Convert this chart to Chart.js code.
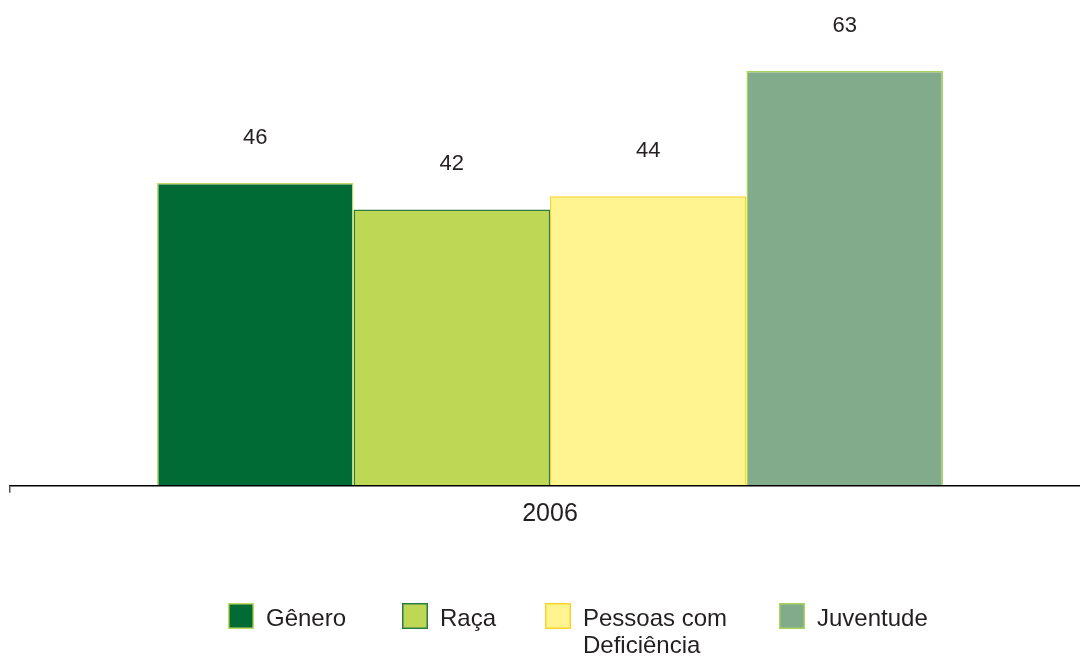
<!DOCTYPE html>
<html>
<head>
<meta charset="utf-8">
<script src="https://cdn.jsdelivr.net/npm/chart.js@4.4.1/dist/chart.umd.min.js"></script>
<style>
  html, body { margin: 0; padding: 0; background: #ffffff; }
  #wrap { position: relative; width: 1080px; height: 657px; }
</style>
</head>
<body>
<div id="wrap"><canvas id="c" width="1080" height="657"></canvas></div>
<script>
// Categories and series
const years = ['2006'];
const seriesNames = ['Gênero', 'Raça', ['Pessoas com', 'Deficiência'], 'Juventude'];
const generoValues = [46];
const racaValues = [42];
const deficienciaValues = [44];
const juventudeValues = [63];

// Styling
const fills = ['#006b35', '#bed855', '#fef591', '#82ab8b'];
const borders = ['#c2da62', '#2a7c3f', '#ffd32a', '#a8d45a'];
const textColor = '#231f20';
const FONT = '"Liberation Sans", Arial, sans-serif';

const seriesValues = [generoValues, racaValues, deficienciaValues, juventudeValues];

const datasets = seriesValues.map((vals, i) => ({
  label: Array.isArray(seriesNames[i]) ? seriesNames[i].join(' ') : seriesNames[i],
  data: vals,
  backgroundColor: fills[i],
  borderColor: borders[i],
  borderWidth: 1.5,
  borderSkipped: 'bottom'
}));

// Value labels above each bar
const valueLabels = {
  id: 'valueLabels',
  afterDatasetsDraw(chart) {
    const ctx = chart.ctx;
    ctx.save();
    ctx.font = '22px ' + FONT;
    ctx.fillStyle = textColor;
    ctx.textAlign = 'center';
    ctx.textBaseline = 'alphabetic';
    chart.data.datasets.forEach((ds, i) => {
      const meta = chart.getDatasetMeta(i);
      meta.data.forEach((bar, j) => {
        ctx.fillText(String(ds.data[j]), bar.x, bar.y - 39);
      });
    });
    ctx.restore();
  }
};

// Baseline drawn across the full width, with a small downward tick at its left end
const baseline = {
  id: 'baseline',
  afterDraw(chart) {
    const ctx = chart.ctx;
    const y = Math.round(chart.scales.y.getPixelForValue(0)) - 0.25;
    ctx.save();
    ctx.strokeStyle = '#000000';
    ctx.lineWidth = 1.5;
    ctx.beginPath();
    ctx.moveTo(9, y);
    ctx.lineTo(chart.width, y);
    ctx.stroke();
    ctx.strokeStyle = '#555555';
    ctx.beginPath();
    ctx.moveTo(9.75, y);
    ctx.lineTo(9.75, y + 7);
    ctx.stroke();
    ctx.restore();
  }
};

// Legend below the plot, with wrapped labels
const bottomLegend = {
  id: 'bottomLegend',
  afterDraw(chart) {
    const ctx = chart.ctx;
    const boxX = [228, 402, 545, 779];
    const boxY = 603, size = 26;
    ctx.save();
    ctx.font = '24px ' + FONT;
    ctx.textBaseline = 'alphabetic';
    seriesNames.forEach((name, i) => {
      ctx.fillStyle = fills[i];
      ctx.fillRect(boxX[i], boxY, size, size);
      ctx.strokeStyle = borders[i];
      ctx.lineWidth = 1.5;
      ctx.strokeRect(boxX[i] + 0.75, boxY + 0.75, size - 1.5, size - 1.5);
      ctx.fillStyle = textColor;
      const lines = Array.isArray(name) ? name : [name];
      lines.forEach((ln, k) => ctx.fillText(ln, boxX[i] + 38, 626 + k * 27));
    });
    ctx.restore();
  }
};

new Chart(document.getElementById('c'), {
  type: 'bar',
  data: { labels: years, datasets },
  options: {
    responsive: false,
    animation: false,
    devicePixelRatio: 1,
    layout: { padding: { left: 20, right: 0, top: 0, bottom: 0 } },
    categoryPercentage: 0.7415,
    barPercentage: 1.0,
    plugins: {
      legend: { display: false },
      tooltip: { enabled: false }
    },
    scales: {
      x: {
        grid: { display: false, drawTicks: false },
        border: { display: false },
        ticks: {
          color: textColor,
          font: { family: FONT, size: 25 },
          padding: 13
        },
        afterFit(scale) { scale.height = 657 - 486; }
      },
      y: {
        display: false,
        min: 0,
        max: 73.8
      }
    }
  },
  plugins: [valueLabels, baseline, bottomLegend]
});
</script>
</body>
</html>
